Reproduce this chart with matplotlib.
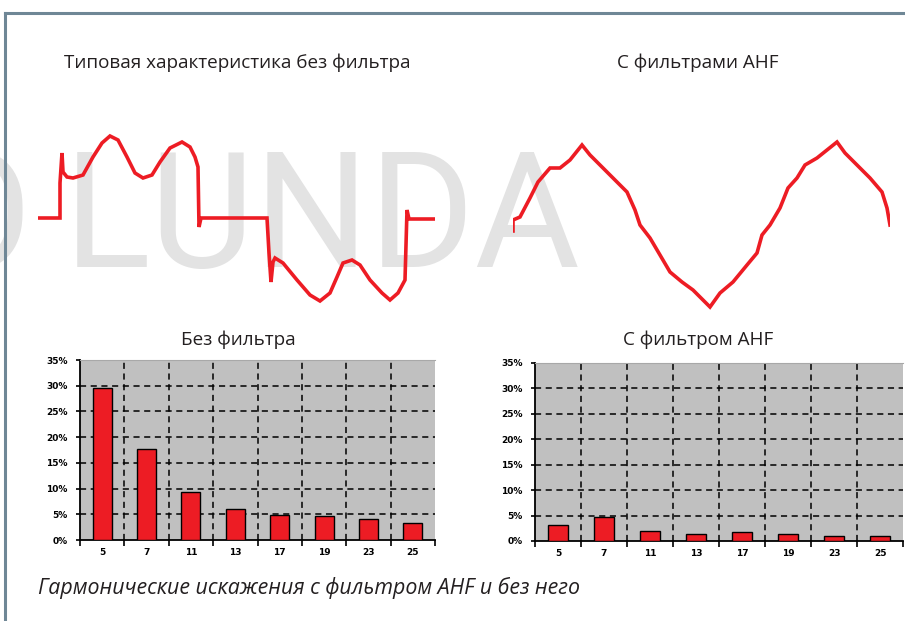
"""Harmonic distortion with and without an AHF filter: waveforms and spectra."""

import matplotlib

matplotlib.use("Agg")
import matplotlib.pyplot as plt
from matplotlib.lines import Line2D

RED = "#ed1c24"
INK = "#231f20"
FRAME = "#6f8796"
PLOT_BG = "#c0c0c0"
WATERMARK = "#e3e3e3"

W, H = 905, 621

# harmonic spectra, % of fundamental
harmonics = ["5", "7", "11", "13", "17", "19", "23", "25"]
thd_no_filter = [29.6, 17.6, 9.4, 6.0, 4.9, 4.7, 4.0, 3.3]
thd_ahf = [3.1, 4.8, 2.0, 1.4, 1.7, 1.4, 1.0, 1.0]
pct_ticks = [0, 5, 10, 15, 20, 25, 30, 35]

# current waveform without filter (time, amplitude)
wave_raw_t = [0, 21, 22, 22, 24, 25, 29, 35, 45, 55, 64, 72, 80, 89, 97, 105,
              114, 122, 132, 144, 152, 157, 160, 161, 163, 229, 231, 233, 235,
              237, 245, 259, 272, 282, 292, 299, 305, 314, 322, 332, 344, 352,
              360, 367, 369, 371, 397]
wave_raw_a = [0, 0, 0, 35, 65, 46, 41, 40, 43, 61, 75, 82, 78, 61, 45, 40,
              43, 56, 70, 76, 71, 61, 51, -9, 0, 0, -35, -64, -44, -40, -45,
              -62, -77, -83, -75, -59, -45, -42, -47, -62, -75, -82, -75, -62,
              8, -1, -1]

# current waveform with AHF filter
wave_ahf_t = [0, 0, 7, 17, 25, 37, 47, 57, 69, 77, 87, 100, 114, 122, 127, 137,
              147, 157, 169, 180, 187, 197, 207, 220, 234, 244, 249, 257, 267,
              275, 284, 292, 304, 314, 324, 332, 344, 357, 369, 374, 377]
wave_ahf_a = [-7, 4, 7, 26, 42, 56, 56, 64, 79, 69, 59, 46, 32, 14, -1, -14,
              -31, -48, -58, -66, -73, -83, -69, -58, -41, -29, -11, -1, 16, 36,
              46, 59, 66, 74, 82, 71, 59, 46, 32, 16, -1]


def px_axes(fig, x0, y0, x1, y1, **kw):
    """Axes spanning pixel box (x0, y0 top-left) to (x1, y1 bottom-right)."""
    return fig.add_axes([x0 / W, 1 - y1 / H, (x1 - x0) / W, (y1 - y0) / H], **kw)


def wave_panel(fig, box, t, a):
    ax = px_axes(fig, *box)
    ax.set_zorder(3)
    ax.patch.set_visible(False)
    ax.plot(t, a, color=RED, lw=2.6, solid_joinstyle="miter")
    ax.set_xlim(0, t[-1])
    ax.set_ylim(-90, 90)
    ax.axis("off")
    return ax


def spectrum_panel(fig, box, values):
    ax = px_axes(fig, *box)
    n = len(harmonics)
    ax.set_facecolor(PLOT_BG)
    ax.set_xlim(0, n)
    ax.set_ylim(0, 35)
    ax.bar([i + 0.5 for i in range(n)], values, width=0.43,
           color=RED, edgecolor="black", linewidth=1.0, zorder=3)
    for v in pct_ticks[1:-1]:
        ax.axhline(v, color="black", lw=1.1, ls=(0, (4, 3)), zorder=2)
    for i in range(1, n):
        ax.axvline(i, color="black", lw=1.1, ls=(0, (4, 3)), zorder=2)
    ax.set_yticks(pct_ticks)
    ax.set_yticklabels([f"{v}%" for v in pct_ticks])
    ax.set_xticks(range(n + 1))
    ax.set_xticklabels([])
    ax.set_xticks([i + 0.5 for i in range(n)], minor=True)
    ax.set_xticklabels(harmonics, minor=True)
    ax.tick_params(axis="x", which="minor", length=0, pad=6)
    ax.tick_params(axis="x", which="major", length=4, width=1.2, direction="out")
    ax.tick_params(axis="y", length=3, width=1.2, pad=6)
    for lab in ax.get_yticklabels() + ax.get_xticklabels(minor=True):
        lab.set_fontsize(6.5)
        lab.set_fontweight("bold")
        lab.set_family("DejaVu Sans")
    ax.spines["right"].set_visible(False)
    ax.spines["top"].set_color("#a8a8a8")
    ax.spines["left"].set_linewidth(1.3)
    ax.spines["bottom"].set_linewidth(1.3)
    return ax


fig = plt.figure(figsize=(W / 100, H / 100), dpi=100)
fig.patch.set_facecolor("white")

# frame
fig.add_artist(Line2D([5 / W, 1], [1 - 13 / H] * 2, color=FRAME, lw=2.2))
fig.add_artist(Line2D([5 / W] * 2, [0, 1 - 13 / H], color=FRAME, lw=2.2))

# watermark
wm = dict(fontsize=116, color=WATERMARK, family=["Roboto", "DejaVu Sans"],
          va="baseline", zorder=0.5)
fig.text(32 / W, 1 - 267 / H, "O", ha="right", **wm)
fig.text(64 / W, 1 - 267 / H, "LUNDA", ha="left", **wm)

title_font = dict(family=["Open Sans", "DejaVu Sans"], color=INK, fontsize=13.6)
fig.text(237 / W, 1 - 63 / H, "Типовая характеристика без фильтра",
         ha="center", va="center", **title_font)
fig.text(698 / W, 1 - 63 / H, "С фильтрами AHF", ha="center", va="center",
         **title_font)
fig.text(238 / W, 1 - 340 / H, "Без фильтра", ha="center", va="center",
         **title_font)
fig.text(698 / W, 1 - 340 / H, "С фильтром AHF", ha="center", va="center",
         **title_font)

wave_panel(fig, (38, 128, 435, 308), wave_raw_t, wave_raw_a)
wave_panel(fig, (513, 134, 890, 314), wave_ahf_t, wave_ahf_a)

spectrum_panel(fig, (80, 360, 435, 540), thd_no_filter)
spectrum_panel(fig, (535, 362.7, 903, 541), thd_ahf)

fig.text(38 / W, 1 - 588 / H, "Гармонические искажения с фильтром AHF и без него",
         ha="left", va="center", style="italic", fontsize=15.4,
         family=["Open Sans", "DejaVu Sans"], color=INK)

fig.savefig("out.png", dpi=100, facecolor="white")
